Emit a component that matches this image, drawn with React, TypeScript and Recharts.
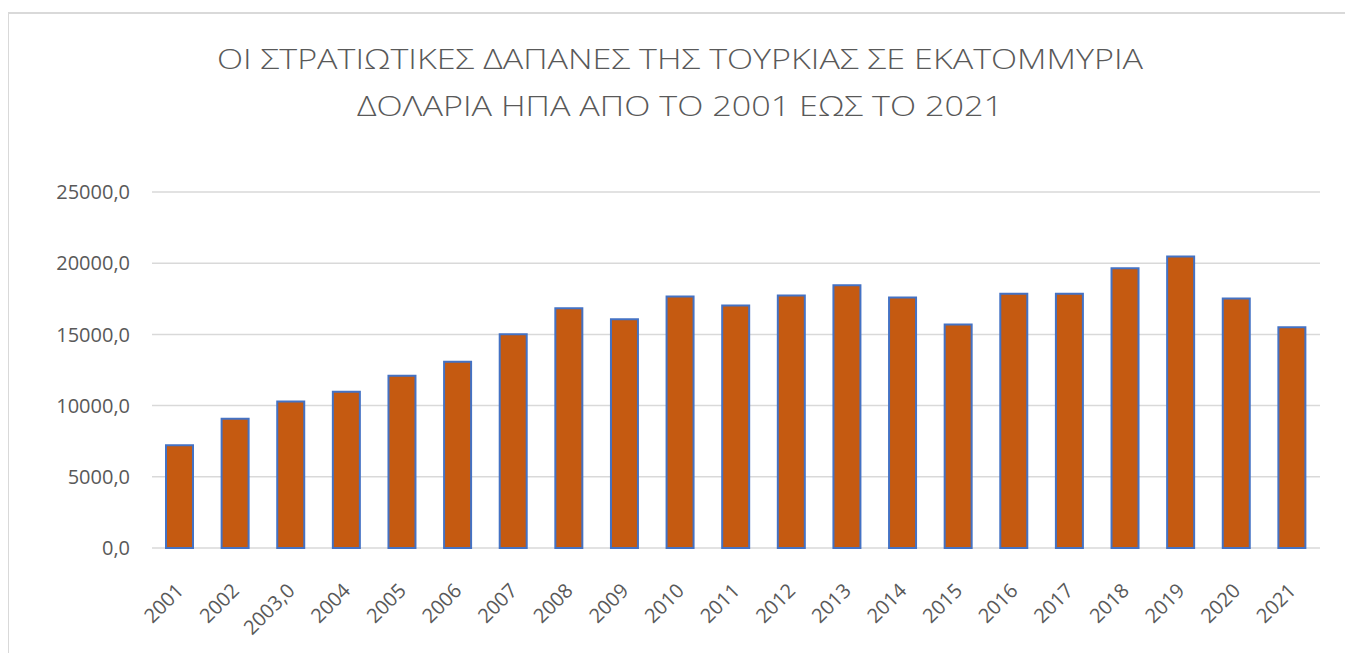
import React from "react";
import { BarChart, Bar, XAxis, YAxis, CartesianGrid } from "recharts";

const years = [
	"2001", "2002", "2003,0", "2004", "2005", "2006", "2007", "2008", "2009", "2010", "2011",
	"2012", "2013", "2014", "2015", "2016", "2017", "2018", "2019", "2020", "2021",
];

const spending = [
	7223, 9076, 10296, 10976, 12101, 13086, 15009, 16839, 16065, 17659, 17026,
	17730, 18457, 17589, 15689, 17847, 17847, 19653, 20474, 17519, 15502,
];

const yTicks = [0, 5000, 10000, 15000, 20000, 25000];

const titleLines = [
	"ΟΙ ΣΤΡΑΤΙΩΤΙΚΕΣ ΔΑΠΑΝΕΣ ΤΗΣ ΤΟΥΡΚΙΑΣ ΣΕ ΕΚΑΤΟΜΜΥΡΙΑ",
	"ΔΟΛΑΡΙΑ ΗΠΑ ΑΠΟ ΤΟ 2001 ΕΩΣ ΤΟ 2021",
];

const data = years.map((year, i) => ({ year, value: spending[i] }));

const font = "'Open Sans', 'Noto Sans', sans-serif";
const textGray = "#595959";

const fmtY = (v: number) => v.toFixed(1).replace(".", ",");

const XTick = (props: any) => {
	const { x, y, payload } = props;
	const ax = x + 5;
	const ay = y + 36;
	return (
		<text
			x={ax}
			y={ay}
			transform={`rotate(-45, ${ax}, ${ay})`}
			textAnchor="end"
			fill={textGray}
			fontSize={20}
			fontFamily={font}
		>
			{payload.value}
		</text>
	);
};

export default function App() {
	return (
		<div style={{ position: "fixed", inset: 0, overflow: "hidden", background: "#fff" }}>
			<div
				style={{
					position: "absolute",
					left: 8,
					top: 12,
					width: 2000,
					height: 1000,
					borderTop: "2px solid #d9d9d9",
					borderLeft: "1px solid #d9d9d9",
					background: "#fff",
				}}
			>
				<svg width={1345} height={130} style={{ position: "absolute", left: 0, top: 0 }}>
					<text x={671} y={55} textAnchor="middle" fill={textGray} fontSize={28} fontWeight={300} fontFamily={font} textLength={926} lengthAdjust="spacingAndGlyphs">
						{titleLines[0]}
					</text>
					<text x={671} y={102} textAnchor="middle" fill={textGray} fontSize={28} fontWeight={300} fontFamily={font} textLength={646} lengthAdjust="spacingAndGlyphs">
						{titleLines[1]}
					</text>
				</svg>
				<div style={{ position: "absolute", left: 0, top: -1 }}>
					<BarChart width={1336} height={640} data={data} margin={{ top: 179, right: 25, left: 0, bottom: 25 }}>
						<CartesianGrid vertical={false} stroke="#d9d9d9" strokeWidth={1.5} />
						<XAxis dataKey="year" axisLine={false} tickLine={false} interval={0} height={80} tick={<XTick />} />
						<YAxis
							domain={[0, 25000]}
							ticks={yTicks}
							axisLine={false}
							tickLine={false}
							width={143}
							tickMargin={16}
							tickFormatter={fmtY}
							tick={{ fill: textGray, fontSize: 20, fontFamily: font }}
						/>
						<Bar dataKey="value" fill="#C55A11" stroke="#4472C4" strokeWidth={2} barSize={27} isAnimationActive={false} />
					</BarChart>
				</div>
			</div>
		</div>
	);
}
